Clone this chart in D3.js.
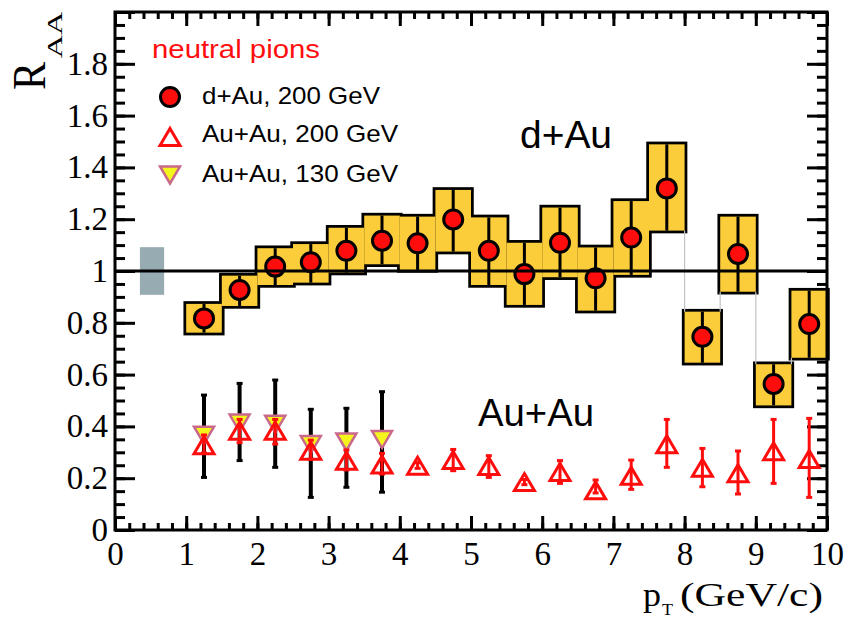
<!DOCTYPE html>
<html>
<head>
<meta charset="utf-8">
<script src="https://cdn.jsdelivr.net/npm/d3@7"></script>
<style>
  html, body { margin: 0; padding: 0; background: #fff; }
  svg { display: block; }
</style>
</head>
<body>
<svg id="chart" width="849" height="621"></svg>
<script>
// Transverse-momentum bins (GeV/c), bin centres
const ptBins = [1.25, 1.75, 2.25, 2.75, 3.25, 3.75, 4.25, 4.75, 5.25, 5.75, 6.25, 6.75, 7.25, 7.75, 8.25, 8.75, 9.25, 9.75];
const binHalfWidth = 0.25;

// d+Au 200 GeV: R_AA and the error band limits
const dAuValue = [0.817, 0.927, 1.017, 1.034, 1.078, 1.117, 1.107, 1.199, 1.078, 0.988, 1.109, 0.972, 1.129, 1.319, 0.746, 1.066, 0.564, 0.795];
const dAuLow   = [0.762, 0.865, 0.946, 0.955, 0.994, 1.026, 1.004, 1.075, 0.946, 0.869, 0.976, 0.847, 0.985, 1.156, 0.646, 0.920, 0.481, 0.665];
const dAuHigh  = [0.873, 0.982, 1.088, 1.104, 1.167, 1.214, 1.210, 1.313, 1.207, 1.109, 1.245, 1.091, 1.270, 1.489, 0.843, 1.210, 0.640, 0.924];

// Au+Au 200 GeV
const auau200Value = [0.327, 0.383, 0.383, 0.306, 0.267, 0.253, 0.248, 0.270, 0.247, 0.185, 0.224, 0.153, 0.209, 0.331, 0.240, 0.219, 0.304, 0.274];
const auau200High  = [0.367, 0.427, 0.427, 0.347, 0.309, 0.296, 0.260, 0.311, 0.287, 0.195, 0.268, 0.193, 0.270, 0.427, 0.315, 0.305, 0.427, 0.431];
const auau200Low   = [0.297, 0.337, 0.332, 0.273, 0.232, 0.216, 0.238, 0.229, 0.203, 0.175, 0.180, 0.143, 0.157, 0.242, 0.167, 0.139, 0.180, 0.126];

// Au+Au 130 GeV
const auau130Pt    = [1.25, 1.75, 2.25, 2.75, 3.25, 3.75];
const auau130Value = [0.366, 0.413, 0.408, 0.330, 0.340, 0.349];
const auau130High  = [0.521, 0.566, 0.579, 0.466, 0.470, 0.534];
const auau130Low   = [0.203, 0.268, 0.242, 0.126, 0.165, 0.146];

// Normalisation uncertainty band at R_AA = 1
const normPt = [0.35, 0.69];
const normRange = [0.908, 1.092];

// Axis ticks
const xMajorTicks = [0, 1, 2, 3, 4, 5, 6, 7, 8, 9, 10];
const yMajorTicks = [0, 0.2, 0.4, 0.6, 0.8, 1, 1.2, 1.4, 1.6, 1.8, 2];
const yTickLabels = ["0", "0.2", "0.4", "0.6", "0.8", "1", "1.2", "1.4", "1.6", "1.8", ""];

const legendTitle = "neutral pions";
const legendLabels = ["d+Au, 200 GeV", "Au+Au, 200 GeV", "Au+Au, 130 GeV"];

const RED = "#ff0d0d";
const GOLD = "#fccd3a";
const SERIF = "'Liberation Serif', 'Times New Roman', serif";
const SANS = "'Liberation Sans', Arial, sans-serif";

const svg = d3.select("#chart");
const x = d3.scaleLinear().domain([0, 10]).range([115, 827]);
const y = d3.scaleLinear().domain([0, 2]).range([530, 12]);

const xMinor = d3.range(0, 10.001, 0.2).map(v => +v.toFixed(2));
const yMinor = d3.range(0, 2.001, 0.05).map(v => +v.toFixed(2));

// ---- axes: ticks point into the frame on all four sides ----
function styleAxis(g) {
  g.select(".domain").remove();
  g.selectAll(".tick line").attr("stroke", "#000").attr("stroke-width", 3);
}
svg.append("g").attr("transform", `translate(0,${y(0)})`)
  .call(d3.axisBottom(x).tickValues(xMinor).tickSize(-7).tickFormat(""))
  .call(styleAxis);
svg.append("g").attr("transform", `translate(0,${y(0)})`)
  .call(d3.axisBottom(x).tickValues(xMajorTicks).tickSize(-14).tickPadding(12).tickFormat(d3.format("d")))
  .call(styleAxis)
  .call(g => g.selectAll("text").attr("font-family", SERIF).attr("font-size", 33).attr("fill", "#000"));
svg.append("g").attr("transform", `translate(0,${y(2)})`)
  .call(d3.axisTop(x).tickValues(xMinor).tickSize(-7).tickFormat(""))
  .call(styleAxis);
svg.append("g").attr("transform", `translate(0,${y(2)})`)
  .call(d3.axisTop(x).tickValues(xMajorTicks).tickSize(-14).tickFormat(""))
  .call(styleAxis);

svg.append("g").attr("transform", `translate(${x(0)},0)`)
  .call(d3.axisLeft(y).tickValues(yMinor).tickSize(-10).tickFormat(""))
  .call(styleAxis);
svg.append("g").attr("transform", `translate(${x(0)},0)`)
  .call(d3.axisLeft(y).tickValues(yMajorTicks).tickSize(-20).tickPadding(7)
    .tickFormat((d, i) => yTickLabels[i]))
  .call(styleAxis)
  .call(g => g.selectAll("text").attr("font-family", SERIF).attr("font-size", 33).attr("fill", "#000"));
svg.append("g").attr("transform", `translate(${x(10)},0)`)
  .call(d3.axisRight(y).tickValues(yMinor).tickSize(-10).tickFormat(""))
  .call(styleAxis);
svg.append("g").attr("transform", `translate(${x(10)},0)`)
  .call(d3.axisRight(y).tickValues(yMajorTicks).tickSize(-20).tickFormat(""))
  .call(styleAxis);

// ---- normalisation band ----
svg.append("rect")
  .attr("x", x(normPt[0])).attr("width", x(normPt[1]) - x(normPt[0]))
  .attr("y", y(normRange[1])).attr("height", y(normRange[0]) - y(normRange[1]))
  .attr("fill", "#96abb2");

// ---- d+Au error boxes: outlines first, fills over them so only the outer contour stays ----
const dAu = ptBins.map((p, i) => ({ p, v: dAuValue[i], lo: dAuLow[i], hi: dAuHigh[i] }));
const boxes = svg.append("g");
boxes.selectAll("rect.outline").data(dAu).join("rect").attr("class", "outline")
  .attr("x", d => x(d.p - binHalfWidth)).attr("width", d => x(d.p + binHalfWidth) - x(d.p - binHalfWidth))
  .attr("y", d => y(d.hi)).attr("height", d => y(d.lo) - y(d.hi))
  .attr("fill", "#000").attr("stroke", "#000").attr("stroke-width", 5.5);
boxes.selectAll("rect.fill").data(dAu).join("rect").attr("class", "fill")
  .attr("x", d => x(d.p - binHalfWidth)).attr("width", d => x(d.p + binHalfWidth) - x(d.p - binHalfWidth))
  .attr("y", d => y(d.hi)).attr("height", d => y(d.lo) - y(d.hi))
  .attr("fill", GOLD);

// thin links between neighbouring boxes that do not overlap
const links = [];
for (let i = 0; i < dAu.length - 1; i++) {
  const a = dAu[i], b = dAu[i + 1];
  const edge = a.p + binHalfWidth;
  if (b.hi < a.lo) links.push({ edge, y1: b.hi, y2: a.lo });
  else if (b.lo > a.hi) links.push({ edge, y1: a.hi, y2: b.lo });
}
svg.append("g").selectAll("line").data(links).join("line")
  .attr("x1", d => x(d.edge)).attr("x2", d => x(d.edge))
  .attr("y1", d => y(d.y1)).attr("y2", d => y(d.y2))
  .attr("stroke", "#c4c4c4").attr("stroke-width", 1.2);

// d+Au error bars and markers
svg.append("g").selectAll("line").data(dAu).join("line")
  .attr("x1", d => x(d.p)).attr("x2", d => x(d.p))
  .attr("y1", d => y(d.lo)).attr("y2", d => y(d.hi))
  .attr("stroke", "#000").attr("stroke-width", 3);
svg.append("g").selectAll("circle").data(dAu).join("circle")
  .attr("cx", d => x(d.p)).attr("cy", d => y(d.v)).attr("r", 9.5)
  .attr("fill", RED).attr("stroke", "#000").attr("stroke-width", 3);

// ---- Au+Au markers ----
const upTri = "M0,-8.5L10,8.5L-10,8.5Z";
const downTri = "M-10,-8.5L10,-8.5L0,8.5Z";

function errorBars(g, data, color, width) {
  const grp = g.append("g");
  grp.selectAll("line.bar").data(data).join("line").attr("class", "bar")
    .attr("x1", d => x(d.p)).attr("x2", d => x(d.p))
    .attr("y1", d => y(d.lo)).attr("y2", d => y(d.hi))
    .attr("stroke", color).attr("stroke-width", width);
  const caps = data.flatMap(d => [{ p: d.p, v: d.lo }, { p: d.p, v: d.hi }]);
  grp.selectAll("line.cap").data(caps).join("line").attr("class", "cap")
    .attr("x1", d => x(d.p) - 3).attr("x2", d => x(d.p) + 3)
    .attr("y1", d => y(d.v)).attr("y2", d => y(d.v))
    .attr("stroke", color).attr("stroke-width", 3);
}

const auau130 = auau130Pt.map((p, i) => ({ p, v: auau130Value[i], lo: auau130Low[i], hi: auau130High[i] }));
const auau200 = ptBins.map((p, i) => ({ p, v: auau200Value[i], lo: auau200Low[i], hi: auau200High[i] }));

errorBars(svg, auau130, "#000", 4);
svg.append("g").selectAll("path").data(auau130).join("path")
  .attr("d", downTri).attr("transform", d => `translate(${x(d.p)},${y(d.v)})`)
  .attr("fill", "#f5f51e").attr("stroke", "#c9688b").attr("stroke-width", 2.5);

errorBars(svg, auau200, RED, 3);
svg.append("g").selectAll("path").data(auau200).join("path")
  .attr("d", upTri).attr("transform", d => `translate(${x(d.p)},${y(d.v)})`)
  .attr("fill", "none").attr("stroke", RED).attr("stroke-width", 3);

// ---- reference line at R_AA = 1 ----
svg.append("line")
  .attr("x1", x(0)).attr("x2", x(10)).attr("y1", y(1)).attr("y2", y(1))
  .attr("stroke", "#000").attr("stroke-width", 3);

// ---- frame ----
svg.append("rect")
  .attr("x", x(0)).attr("y", y(2)).attr("width", x(10) - x(0)).attr("height", y(0) - y(2))
  .attr("fill", "none").attr("stroke", "#000").attr("stroke-width", 3);

// ---- text helper ----
function label(parent, str, px, py, size, family, color, len) {
  const t = parent.append("text").attr("x", px).attr("y", py)
    .attr("font-family", family).attr("font-size", size).attr("fill", color).text(str);
  if (len) t.attr("textLength", len).attr("lengthAdjust", "spacingAndGlyphs");
  return t;
}

// ---- legend ----
label(svg, legendTitle, 152, 58, 26, SANS, RED, 168);
const legendY = [97, 137, 175];
const legendBase = [104, 142, 182];
svg.append("circle").attr("cx", 170).attr("cy", legendY[0]).attr("r", 9.5)
  .attr("fill", RED).attr("stroke", "#000").attr("stroke-width", 3);
svg.append("path").attr("d", upTri).attr("transform", `translate(170,${legendY[1]})`)
  .attr("fill", "none").attr("stroke", RED).attr("stroke-width", 3);
svg.append("path").attr("d", downTri).attr("transform", `translate(170,${legendY[2]})`)
  .attr("fill", "#f5f51e").attr("stroke", "#c9688b").attr("stroke-width", 2.5);
label(svg, legendLabels[0], 202, legendBase[0], 24, SANS, "#000", 178);
label(svg, legendLabels[1], 202, legendBase[1], 24, SANS, "#000", 196);
label(svg, legendLabels[2], 202, legendBase[2], 24, SANS, "#000", 196);

// ---- system labels ----
label(svg, "d+Au", 520, 148, 38, SANS, "#000", 92);
label(svg, "Au+Au", 478, 426, 38, SANS, "#000", 116);

// ---- axis titles ----
const yTitle = svg.append("g").attr("transform", "translate(45,90) rotate(-90)");
label(yTitle, "R", 0, 0, 46, SERIF, "#000", 28);
label(yTitle, "AA", 31.7, 17, 21, SERIF, "#000", 46.7);

label(svg, "p", 643, 606, 33, SERIF, "#000", 18);
label(svg, "T", 662, 615, 17, SERIF, "#000", 11);
label(svg, "(GeV/c)", 680, 606, 33, SERIF, "#000", 143);
</script>
</body>
</html>
